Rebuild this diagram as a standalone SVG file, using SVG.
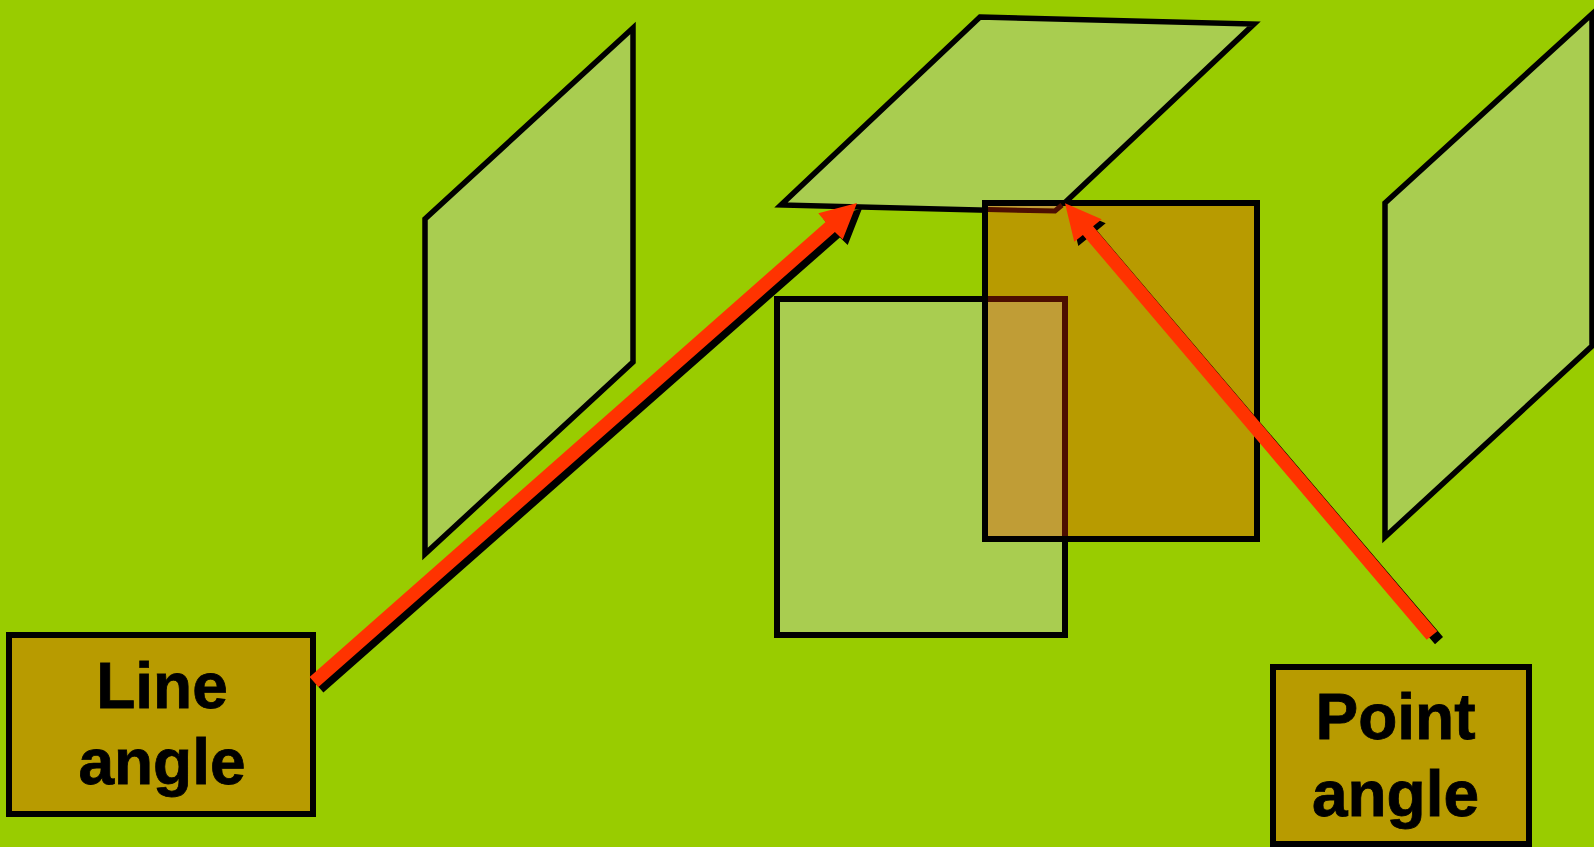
<svg xmlns="http://www.w3.org/2000/svg" width="1594" height="847" viewBox="0 0 1594 847">
<defs>
<style>
.pl{fill:#A9CD50;stroke:#000;stroke-width:5.5}
.fr{fill:#A9CD50;stroke:#000;stroke-width:6}
.yl{fill:#B89B00;stroke:#000;stroke-width:6}
.t{font-family:"Liberation Sans",Arial,sans-serif;font-weight:700;font-size:64px;fill:#000;stroke:#000;stroke-width:.8;text-anchor:middle}
</style>
<polygon id="a1" points="309.6,677 825.6,222 818.3,213.3 857,203 842.7,239.5 834.9,232 318.4,687"/>
</defs>
<rect width="1594" height="847" fill="#99CC00"/>
<g id="plane-left"><polygon class="pl" points="633,28 633,362 425,554 425,219"/></g>
<g id="plane-right"><polygon class="pl" points="1385,203 1592,14 1592,346 1385,537"/></g>
<g id="plane-top"><polygon class="pl" points="980,17 1254,24 1055,212 781,205"/></g>
<g id="plane-front"><rect class="fr" x="777" y="299" width="288" height="336"/></g>
<g id="plane-back">
<rect class="yl" x="985" y="203" width="272" height="336"/>
<polygon fill="#C09D36" points="988,299 1065,299 1065,536 988,536"/>
<polygon fill="#C09D36" points="988,206 1061,206 1055,208.5 988,207"/>
<path d="M988,299H1065V536" fill="none" stroke="#4D0E00" stroke-width="6"/>
<path d="M988,209.5L1055,211L1062,205" fill="none" stroke="#4D0E00" stroke-width="5"/>
</g>
<g id="line-angle"><rect class="yl" x="9" y="635" width="304" height="179"/>
<text class="t" x="162" y="707.5">Line</text><text class="t" x="162" y="784">angle</text></g>
<g id="point-angle"><rect class="yl" x="1273" y="667" width="256" height="177"/>
<text class="t" x="1395.5" y="739">Point</text><text class="t" x="1395.5" y="816">angle</text></g>
<g id="connectors">
<use href="#a1" x="5" y="5.5" fill="#000"/><use href="#a1" fill="#FF3300"/>
<polygon fill="#000" points="1069,207.3 1105.7,223.3 1097,230.6 1443,637 1435,644.3 1087.5,238.5 1078.3,246"/>
<polygon fill="#FF3300" points="1065,203.3 1101.7,219.3 1093.1,226.3 1437.3,631.2 1426.7,639.8 1082.9,234.9 1074.3,241.7"/>
</g>
</svg>
